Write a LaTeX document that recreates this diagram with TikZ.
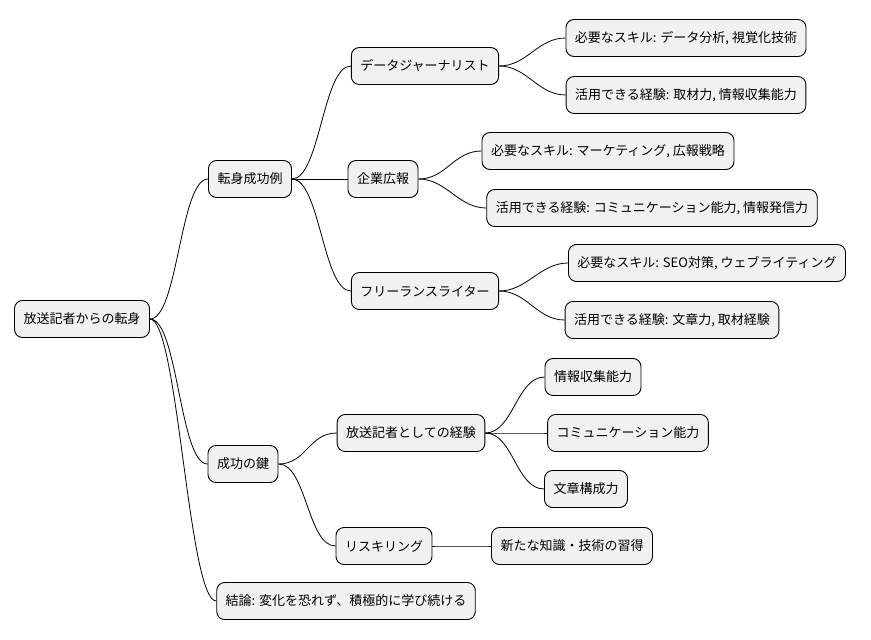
\documentclass[tikz,border=0pt]{standalone}
\usepackage{fontspec}
\setmainfont{Noto Sans CJK JP}
\usetikzlibrary{positioning}
\definecolor{boxgray}{HTML}{F1F1F1}
\tikzset{
  topic/.style={draw, fill=boxgray, rounded corners=8pt, line width=0.9pt,
    minimum height=37pt, inner xsep=9pt, font=\fontsize{13}{15}\selectfont},
  branch/.style={line width=0.8pt}
}
\newcommand{\branchto}[2]{\draw[branch] (#1.east) .. controls +(28,0) and +(-28,0) .. (#2.west);}

\begin{document}
\begin{tikzpicture}[x=1pt,y=-1pt]
\useasboundingbox (0,0) rectangle (871,640);
\node[topic] (root) at (82,319) {放送記者からの転身};

\node[topic] (cases) at (250,179) {転身成功例};
\node[topic] (keys) at (243,464) {成功の鍵};
\node[topic] (concl) at (346,601) {結論: 変化を恐れず、積極的に学び続ける};

\node[topic] (journ) at (425,66) {データジャーナリスト};
\node[topic] (pr) at (383,179) {企業広報};
\node[topic] (free) at (425,291) {フリーランスライター};
\node[topic] (exp) at (411,433) {放送記者としての経験};
\node[topic] (resk) at (384,546) {リスキリング};

\node[topic] (journskill) at (686,38) {必要なスキル: データ分析, 視覚化技術};
\node[topic] (journexp) at (686,95) {活用できる経験: 取材力, 情報収集能力};
\node[topic] (prskill) at (608,151) {必要なスキル: マーケティング, 広報戦略};
\node[topic] (prexp) at (652,208) {活用できる経験: コミュニケーション能力, 情報発信力};
\node[topic] (freeskill) at (707,263) {必要なスキル: SEO対策, ウェブライティング};
\node[topic] (freeexp) at (672,320) {活用できる経験: 文章力, 取材経験};
\node[topic] (info) at (593,377) {情報収集能力};
\node[topic] (comm) at (628,433) {コミュニケーション能力};
\node[topic] (write) at (586,489) {文章構成力};
\node[topic] (learn) at (572,546) {新たな知識・技術の習得};

\branchto{root}{cases}
\branchto{root}{keys}
\branchto{root}{concl}
\branchto{cases}{journ}
\branchto{cases}{pr}
\branchto{cases}{free}
\branchto{keys}{exp}
\branchto{keys}{resk}
\branchto{journ}{journskill}
\branchto{journ}{journexp}
\branchto{pr}{prskill}
\branchto{pr}{prexp}
\branchto{free}{freeskill}
\branchto{free}{freeexp}
\branchto{exp}{info}
\branchto{exp}{comm}
\branchto{exp}{write}
\branchto{resk}{learn}
\end{tikzpicture}
\end{document}
